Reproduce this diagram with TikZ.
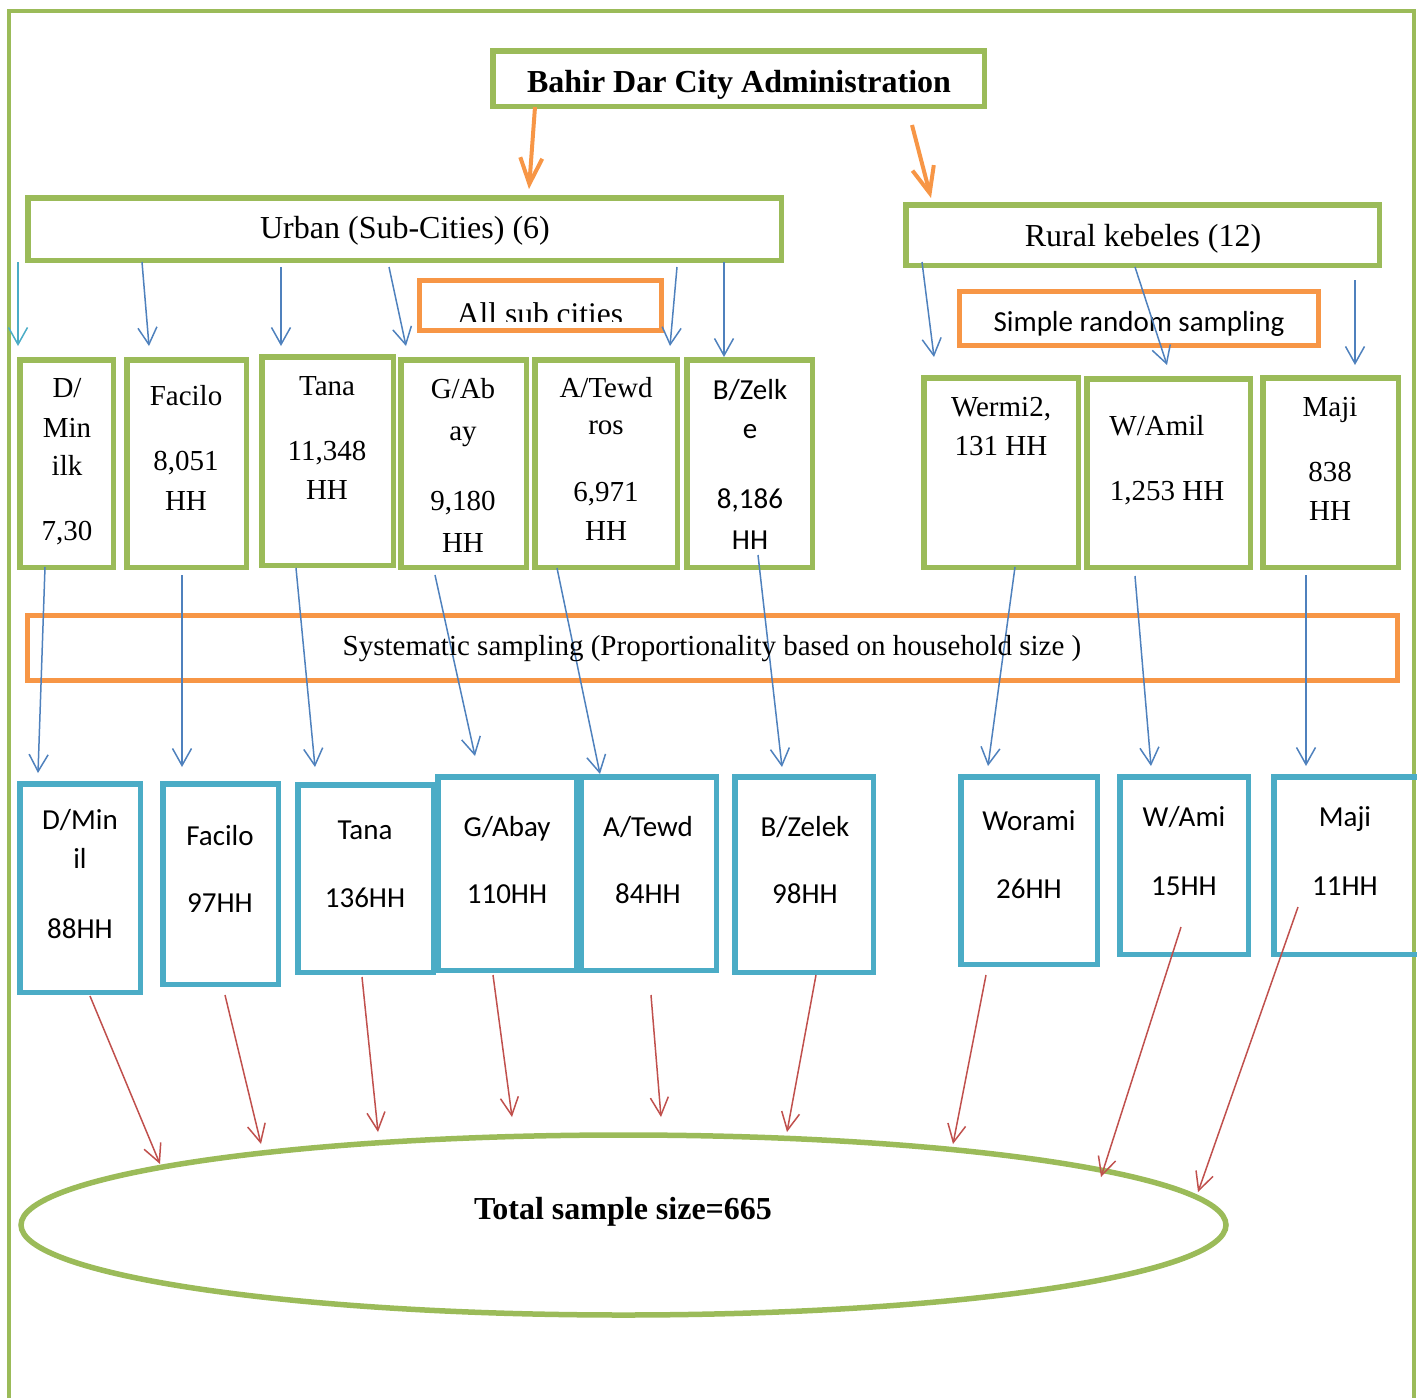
\documentclass[tikz,border=0pt]{standalone}
\usepackage{fontspec}
\setmainfont{Liberation Serif}
\newfontfamily\calib{Carlito}
\usetikzlibrary{arrows.meta,fit,shapes.geometric}
\definecolor{xgreen}{HTML}{9BBB59}
\definecolor{xorange}{HTML}{F79646}
\definecolor{xblue}{HTML}{4F81BD}
\definecolor{xcyan}{HTML}{4BACC6}
\definecolor{xred}{HTML}{C0504D}
\begin{document}
\begin{tikzpicture}[x=1pt,y=-1pt,
  gbox/.style={draw=xgreen,line width=5.5pt,inner sep=-2.75pt},
  obox/.style={draw=xorange,line width=5pt,inner sep=-2.5pt},
  cbox/.style={draw=xcyan,line width=5.5pt,inner sep=-2.75pt},
  big/.style={anchor=base,inner sep=0pt,font=\fontsize{32}{38}\selectfont},
  bigb/.style={anchor=base,inner sep=0pt,font=\fontsize{32}{38}\selectfont\bfseries},
  ts/.style={anchor=base,inner sep=0pt,font=\fontsize{29}{34}\selectfont},
  tc/.style={anchor=base,inner sep=0pt,font=\calib\fontsize{29}{34}\selectfont},
  oarrow/.style={draw=xorange,line width=4pt,-{Straight Barb[length=26pt,width=22pt]}},
  barrow/.style={draw=xblue,line width=1.5pt,-{Straight Barb[length=17pt,width=19pt]}},
  carrow/.style={draw=xcyan,line width=1.5pt,-{Straight Barb[length=17pt,width=19pt]}},
  rarrow/.style={draw=xred,line width=1.5pt,-{Straight Barb[length=18pt,width=18pt]}}]
\useasboundingbox (0,0) rectangle (1417,1398);
% outer frame
\draw[xgreen,line width=4pt] (9,1430) -- (9,11) -- (1414,11) -- (1414,1430);

% top boxes
\node[gbox,fit={(490,48) (987,109)}] (bahir) {};
\node[bigb] (bahirt) at (739,92) {Bahir Dar City Administration};
\node[gbox,fit={(25,195) (784,263)}] (urban) {};
\node[big] (urbant) at (405,238) {Urban (Sub-Cities) (6)};
\node[gbox,fit={(903,202) (1382,268)}] (rural) {};
\node[big] (ruralt) at (1143,246) {Rural kebeles (12)};

\node[obox,fit={(417,278) (664,333)}] (allsub) {};
\begin{scope}
\clip (420,281) rectangle (661,321);
\node[anchor=base,inner sep=0pt,font=\fontsize{31.5}{36}\selectfont] (allsubt) at (540,324) {All sub cities};
\end{scope}
\node[obox,fit={(957,289) (1321,348)}] (srs) {};
\node[tc] (srst) at (1139,331) {Simple random sampling};

% middle row (green)
\node[gbox,fit={(17,357) (116,570)}] (m1) {};
\node[gbox,fit={(124,357) (249,570)}] (m2) {};
\node[gbox,fit={(259,354) (396,568)}] (m3) {};
\node[gbox,fit={(398,357) (529,570)}] (m4) {};
\node[gbox,fit={(532,357) (680,570)}] (m5) {};
\node[gbox,fit={(684,357) (815,570)}] (m6) {};
\node[gbox,fit={(921,375) (1081,570)}] (m7) {};
\node[gbox,fit={(1084,376) (1253,570)}] (m8) {};
\node[gbox,fit={(1260,375) (1401,570)}] (m9) {};

\node[ts] (m1a) at (67,397) {D/};
\node[ts] (m1b) at (67,437) {Min};
\node[ts] (m1c) at (67,475) {ilk};
\node[ts] (m1d) at (67,540) {7,30};
\node[ts] (m2a) at (186,405) {Facilo};
\node[ts] (m2b) at (186,470) {8,051};
\node[ts] (m2c) at (186,510) {HH};
\node[ts] (m3a) at (327,395) {Tana};
\node[ts] (m3b) at (327,460) {11,348};
\node[ts] (m3c) at (327,499) {HH};
\node[ts] (m4a) at (463,398) {G/Ab};
\node[ts] (m4b) at (463,440) {ay};
\node[ts] (m4c) at (463,510) {9,180};
\node[ts] (m4d) at (463,552) {HH};
\node[ts] (m5a) at (606,397) {A/Tewd};
\node[ts] (m5b) at (606,434) {ros};
\node[ts] (m5c) at (606,501) {6,971};
\node[ts] (m5d) at (606,540) {HH};
\node[tc] (m6a) at (750,399) {B/Zelk};
\node[tc] (m6b) at (750,438) {e};
\node[tc] (m6c) at (750,508) {8,186};
\node[tc] (m6d) at (750,549) {HH};
\node[ts] (m7a) at (1001,416) {Wermi2,};
\node[ts] (m7b) at (1001,455) {131 HH};
\node[ts] (m8a) at (1157,435) {W/Amil};
\node[ts] (m8b) at (1167,500) {1,253 HH};
\node[ts] (m9a) at (1330,416) {Maji};
\node[ts] (m9b) at (1330,481) {838};
\node[ts] (m9c) at (1330,520) {HH};

% systematic sampling band
\node[obox,fit={(25,613) (1400,683)}] (sys) {};

% bottom row (cyan)
\node[cbox,fit={(17,781) (143,995)}] (b1) {};
\node[cbox,fit={(160,781) (281,987)}] (b2) {};
\node[cbox,fit={(295,782) (436,975)}] (b3) {};
\node[cbox,fit={(435,774) (579,973)}] (b4) {};
\node[cbox,fit={(578,774) (719,973)}] (b5) {};
\node[cbox,fit={(732,774) (876,975)}] (b6) {};
\node[cbox,fit={(958,774) (1100,967)}] (b7) {};
\node[cbox,fit={(1117,774) (1251,957)}] (b8) {};
\node[cbox,fit={(1271,774) (1430,957)}] (b9) {};

\node[tc] (b1a) at (80,829) {D/Min};
\node[tc] (b1b) at (80,868) {il};
\node[tc] (b1c) at (80,938) {88HH};
\node[tc] (b2a) at (220,845) {Facilo};
\node[tc] (b2b) at (220,912) {97HH};
\node[tc] (b3a) at (365,839) {Tana};
\node[tc] (b3b) at (365,907) {136HH};
\node[tc] (b4a) at (507,836) {G/Abay};
\node[tc] (b4b) at (507,903) {110HH};
\node[tc] (b5a) at (648,836) {A/Tewd};
\node[tc] (b5b) at (648,903) {84HH};
\node[tc] (b6a) at (805,836) {B/Zelek};
\node[tc] (b6b) at (805,903) {98HH};
\node[tc] (b7a) at (1029,830) {Worami};
\node[tc] (b7b) at (1029,898) {26HH};
\node[tc] (b8a) at (1184,826) {W/Ami};
\node[tc] (b8b) at (1184,895) {15HH};
\node[tc] (b9a) at (1345,826) {Maji};
\node[tc] (b9b) at (1345,895) {11HH};

% total ellipse
\node[draw=xgreen,line width=5.5pt,ellipse,minimum width=1205pt,minimum height=180pt,inner sep=0pt] (tot) at (623.5,1225) {};
\node[bigb] (tott) at (623,1219) {Total sample size=665};

% orange arrows
\coordinate (o1s) at (535,107); \coordinate (o1e) at (529,189);
\coordinate (o2s) at (912,125); \coordinate (o2e) at (931,198);
\draw[oarrow] (o1s) -- (o1e);
\draw[oarrow] (o2s) -- (o2e);

% blue arrows: top groups to middle boxes
\coordinate (u1s) at (18,262);   \coordinate (u1e) at (18,346);
\coordinate (u2s) at (142,262);  \coordinate (u2e) at (149,346);
\coordinate (u3s) at (281,267);  \coordinate (u3e) at (281,346);
\coordinate (u4s) at (389,267);  \coordinate (u4e) at (406,346);
\coordinate (u5s) at (677,267);  \coordinate (u5e) at (670,346);
\coordinate (u6s) at (724,262);  \coordinate (u6e) at (724,357);
\coordinate (r1s) at (922,262);  \coordinate (r1e) at (934,357);
\coordinate (r2s) at (1135,267); \coordinate (r2e) at (1167,365);
\coordinate (r3s) at (1355,280); \coordinate (r3e) at (1355,365);
\draw[carrow] (u1s) -- (u1e);
\draw[barrow] (u2s) -- (u2e);
\draw[barrow] (u3s) -- (u3e);
\draw[barrow] (u4s) -- (u4e);
\draw[barrow] (u5s) -- (u5e);
\draw[barrow] (u6s) -- (u6e);
\draw[barrow] (r1s) -- (r1e);
\draw[barrow] (r2s) -- (r2e);
\draw[barrow] (r3s) -- (r3e);

% blue arrows: middle to bottom boxes
\coordinate (s1s) at (45,567);   \coordinate (s1e) at (38,773);
\coordinate (s2s) at (182,575);  \coordinate (s2e) at (182,767);
\coordinate (s3s) at (296,568);  \coordinate (s3e) at (315,767);
\coordinate (s4s) at (435,575);  \coordinate (s4e) at (475,756);
\coordinate (s5s) at (557,568);  \coordinate (s5e) at (600,774);
\coordinate (s6s) at (758,555);  \coordinate (s6e) at (782,767);
\coordinate (s7s) at (1015,567); \coordinate (s7e) at (988,766);
\coordinate (s8s) at (1135,576); \coordinate (s8e) at (1151,766);
\coordinate (s9s) at (1306,575); \coordinate (s9e) at (1306,766);
\foreach \i in {1,...,9} {\draw[barrow] (s\i s) -- (s\i e);}

\node[ts] (syst) at (712,655) {Systematic sampling (Proportionality based on household size )};

% red arrows: bottom boxes to total
\coordinate (t1s) at (90,996);   \coordinate (t1e) at (160,1164);
\coordinate (t2s) at (225,995);  \coordinate (t2e) at (261,1144);
\coordinate (t3s) at (362,977);  \coordinate (t3e) at (378,1132);
\coordinate (t4s) at (493,975);  \coordinate (t4e) at (512,1117);
\coordinate (t5s) at (651,995);  \coordinate (t5e) at (661,1117);
\coordinate (t6s) at (816,975);  \coordinate (t6e) at (787,1132);
\coordinate (t7s) at (986,975);  \coordinate (t7e) at (953,1144);
\coordinate (t8s) at (1181,927); \coordinate (t8e) at (1101,1177);
\coordinate (t9s) at (1298,907); \coordinate (t9e) at (1198,1192);
\foreach \i in {1,...,9} {\draw[rarrow] (t\i s) -- (t\i e);}
\end{tikzpicture}
\end{document}
